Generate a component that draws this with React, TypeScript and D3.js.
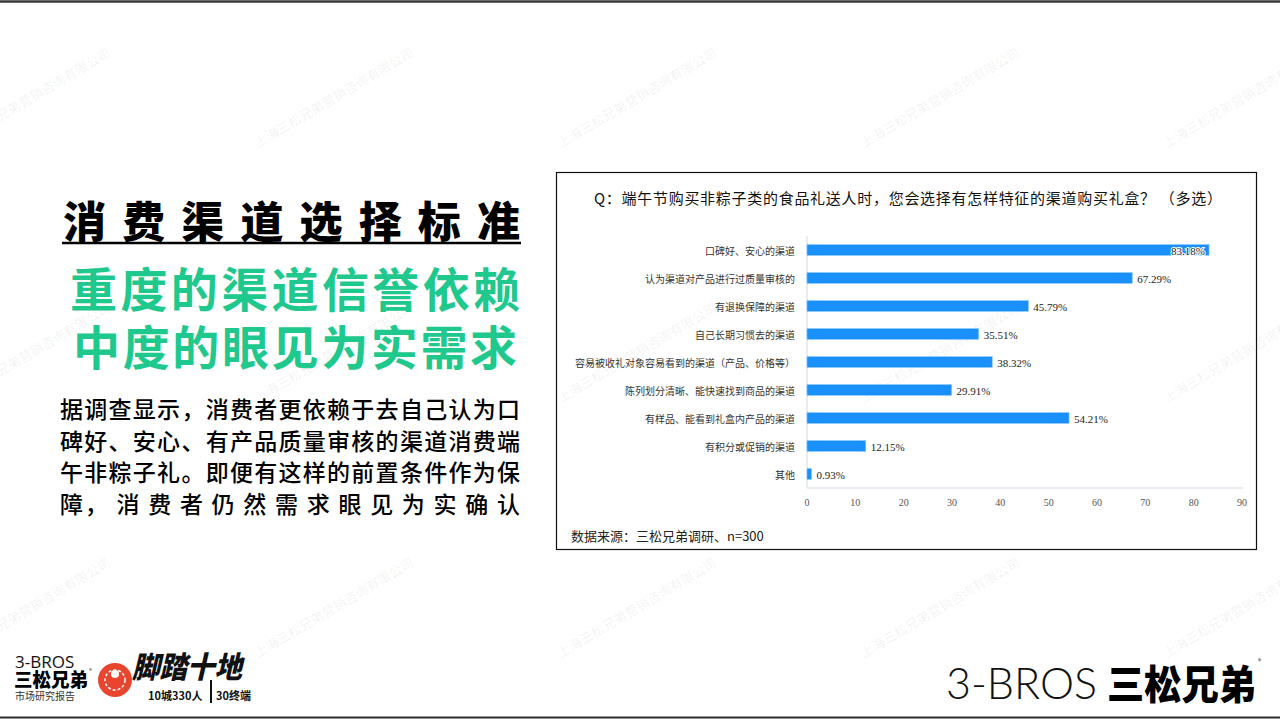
import React from "react";
import * as d3 from "d3";

const categories = [
  "口碑好、安心的渠道",
  "认为渠道对产品进行过质量审核的",
  "有退换保障的渠道",
  "自己长期习惯去的渠道",
  "容易被收礼对象容易看到的渠道（产品、价格等）",
  "陈列划分清晰、能快速找到商品的渠道",
  "有样品、能看到礼盒内产品的渠道",
  "有积分或促销的渠道",
  "其他",
];
const values = [83.18, 67.29, 45.79, 35.51, 38.32, 29.91, 54.21, 12.15, 0.93];
const xTicks = [0, 10, 20, 30, 40, 50, 60, 70, 80, 90];

const chartTitle = "Q：端午节购买非粽子类的食品礼送人时，您会选择有怎样特征的渠道购买礼盒？ （多选）";
const sourceNote = "数据来源：三松兄弟调研、n=300";
const heading = "消费渠道选择标准";
const greenLines = ["重度的渠道信誉依赖", "中度的眼见为实需求"];
const bodyLines = [
  "据调查显示，消费者更依赖于去自己认为口",
  "碑好、安心、有产品质量审核的渠道消费端",
  "午非粽子礼。即便有这样的前置条件作为保",
  "障， 消 费 者 仍 然 需 求 眼 见 为 实 确 认",
];
const watermarkText = "上海三松兄弟营销咨询有限公司";
const wmCols = [-45, 258, 561, 864, 1167];
const wmRows = [148, 403, 658];

const SANS = "'Noto Sans CJK SC', 'Noto Sans', sans-serif";
const SERIF = "'Liberation Serif', 'DejaVu Serif', serif";
const GREEN = "#1fc88c";
const BLUE = "#1a90ff";

export default function App() {
  const x = d3.scaleLinear().domain([0, 90]).range([807, 1242]);
  const y = d3
    .scaleBand<string>()
    .domain(categories)
    .range([236, 488])
    .paddingInner(0.62)
    .paddingOuter(0.31);
  const bw = y.bandwidth();

  return (
    <svg
      width={1280}
      height={720}
      style={{ position: "absolute", left: 0, top: 0, background: "#fff" }}
      fontFamily={SANS}
    >
      <rect x={0} y={0} width={1280} height={720} fill="#fff" />
      {/* top and bottom rules */}
      <line x1={0} x2={1280} y1={1.5} y2={1.5} stroke="#3a3a3a" strokeWidth={2.5} />
      <line x1={0} x2={1280} y1={717.5} y2={717.5} stroke="#2a2a2a" strokeWidth={2} />

      {/* chart box */}
      <rect x={556.5} y={172.5} width={700} height={377} fill="none" stroke="#111" strokeWidth={1.2} />

      {/* watermarks */}
      <g fill="#000" fillOpacity={0.07} fontSize={13}>
        {wmRows.map((ry) =>
          wmCols.map((cx) => (
            <text key={`${cx}-${ry}`} transform={`translate(${cx},${ry}) rotate(-30.5)`}>
              {watermarkText}
            </text>
          ))
        )}
      </g>

      {/* chart title */}
      <text x={594} y={197} dominantBaseline="central" fontSize={15} fill="#111" textLength={628} lengthAdjust="spacing">
        {chartTitle}
      </text>

      {/* axes */}
      <line x1={807} x2={807} y1={236} y2={488} stroke="#dfe4ee" strokeWidth={1.5} />
      <line x1={807} x2={1243} y1={488} y2={488} stroke="#dfe4ee" strokeWidth={1.5} />
      {xTicks.map((t) => (
        <text
          key={t}
          x={x(t)}
          y={502}
          textAnchor="middle"
          dominantBaseline="central"
          fontFamily={SERIF}
          fontSize={10}
          fill="#555"
        >
          {t}
        </text>
      ))}

      {/* bars */}
      {categories.map((c, i) => {
        const yy = y(c) as number;
        const v = values[i];
        const xe = x(v);
        const inside = v > 80;
        return (
          <g key={c}>
            <text
              x={795}
              y={yy + bw / 2}
              textAnchor="end"
              dominantBaseline="central"
              fontSize={10}
              fill="#333"
            >
              {c}
            </text>
            <rect x={807} y={yy} width={xe - 807} height={bw} fill={BLUE} stroke="#7cc0ff" strokeWidth={0.6} />
            <text
              x={inside ? xe - 4 : xe + 5}
              y={yy + bw / 2 + 0.5}
              textAnchor={inside ? "end" : "start"}
              dominantBaseline="central"
              fontFamily={SERIF}
              fontSize={11}
              fill="#222"
              stroke={inside ? "#fff" : "none"}
              strokeWidth={inside ? 2 : 0}
              style={{ paintOrder: "stroke" }}
            >
              {v.toFixed(2)}%
            </text>
          </g>
        );
      })}

      <text x={571} y={535} dominantBaseline="central" fontSize={13} fill="#222">
        {sourceNote}
      </text>

      {/* left text */}
      <text x={63} y={238} fontSize={43} fontWeight={900} fill="#000" textLength={457} lengthAdjust="spacing">
        {heading}
      </text>
      <line x1={62} x2={521} y1={243} y2={243} stroke="#000" strokeWidth={2.5} />
      {greenLines.map((l, i) => (
        <text
          key={l}
          x={70 + i * 3}
          y={307 + i * 58}
          fontSize={47}
          fontWeight={700}
          fill={GREEN}
          textLength={450 - i * 6}
          lengthAdjust="spacing"
        >
          {l}
        </text>
      ))}
      {bodyLines.map((l, i) => (
        <text
          key={i}
          x={60}
          y={418 + i * 31.7}
          fontSize={23}
          fontWeight={500}
          fill="#000"
          textLength={460}
          lengthAdjust="spacing"
        >
          {l}
        </text>
      ))}

      {/* bottom-left logo */}
      <g>
        <text x={15} y={668} fontSize={17} fill="#111" fontFamily="'Open Sans', sans-serif">3-BROS</text>
        <text x={14} y={687} fontSize={19} fontWeight={900} fill="#000" textLength={74} lengthAdjust="spacingAndGlyphs">三松兄弟</text>
        <text x={89} y={673} fontSize={6} fill="#333">®</text>
        <text x={15} y={700} fontSize={10} fill="#333">市场研究报告</text>
        <circle cx={115} cy={680} r={17} fill="#e8442e" />
        <circle cx={115} cy={680} r={10} fill="none" stroke="#fff" strokeWidth={1.5} strokeDasharray="3 2" />
        <circle cx={115} cy={674} r={4} fill="#fff" />
        <text x={132} y={678} fontSize={30} fontWeight={900} fontStyle="italic" fill="#111" textLength={110} lengthAdjust="spacingAndGlyphs">脚踏十地</text>
        <text x={148} y={700} fontSize={11} fontWeight={700} fill="#111">10城330人</text>
        <line x1={211} x2={211} y1={680} y2={703} stroke="#111" strokeWidth={2} />
        <text x={216} y={700} fontSize={11} fontWeight={700} fill="#111">30终端</text>
      </g>

      {/* bottom-right logo */}
      <g>
        <text x={946} y={699} fontSize={44} fontWeight={300} fill="#111" fontFamily="Lato, 'Open Sans', sans-serif" textLength={151} lengthAdjust="spacingAndGlyphs">3-BROS</text>
        <text x={1107} y={699} fontSize={40} fontWeight={900} fill="#000" textLength={149} lengthAdjust="spacingAndGlyphs">三松兄弟</text>
        <text x={1258} y={664} fontSize={7} fill="#333">®</text>
      </g>
    </svg>
  );
}
